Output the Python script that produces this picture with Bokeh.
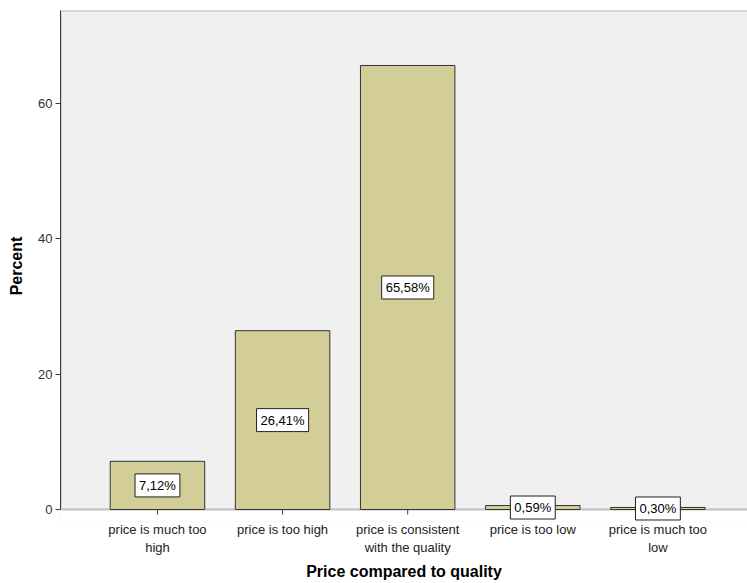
from bokeh.plotting import figure
from bokeh.models import ColumnDataSource, Range1d, FixedTicker, Label, BoxAnnotation
from bokeh.embed import file_html
from bokeh.resources import INLINE

categories = ["price is much too\nhigh", "price is too high", "price is consistent\nwith the quality",
              "price is too low", "price is much too\nlow"]
percent = [7.12, 26.41, 65.58, 0.59, 0.30]
bar_labels = ["7,12%", "26,41%", "65,58%", "0,59%", "0,30%"]
y_ticks = [0, 20, 40, 60]

xs = list(range(len(categories)))
src = ColumnDataSource(dict(x=xs, top=percent))

FONT = "Liberation Sans"
X_LEFT, X_RIGHT = -0.775, 4.716
Y_TOP = 73.7
Y_BOTTOM = -1.77          # small strip below zero so value boxes are not clipped
TICK_LEN = 0.74           # x tick length in data units (~5px)
AX = "#3a3a3a"

p = figure(width=747, height=583, output_backend="svg", toolbar_location=None,
           x_range=Range1d(X_LEFT, X_RIGHT), y_range=Range1d(Y_BOTTOM, Y_TOP))
p.min_border_left = 60
p.min_border_top = 10
p.min_border_bottom = 62
p.min_border_right = 0
p.background_fill_color = "#f0f0f0"
p.border_fill_color = "white"
p.outline_line_color = None
p.xgrid.visible = False
p.ygrid.visible = False

# white strip below the zero line (outside the plotting area in the original)
p.add_layout(BoxAnnotation(top=0, fill_color="white", fill_alpha=1,
                           line_color=None, level="underlay"))
# plot-area border (top edge + zero line); right edge lies beyond the window
p.add_layout(BoxAnnotation(bottom=0, right=X_RIGHT + 0.5, fill_alpha=0, line_color=AX,
                           line_width=2, level="underlay"))

p.vbar(x="x", top="top", width=0.755, bottom=0, source=src,
       fill_color="#d3ce97", line_color="#333333", line_width=1)

# x tick marks below the zero line
p.segment(x0="x", y0=0, x1="x", y1=-TICK_LEN, source=src, line_color=AX, line_width=1)

for xi, v, lab in zip(xs, percent, bar_labels):
    p.add_layout(Label(x=xi, y=v / 2, text=lab, level="overlay",
                       text_align="center", text_baseline="middle",
                       text_font=FONT, text_font_size="13px", text_color="black",
                       background_fill_color="white", border_line_color="#222222",
                       border_line_width=1, padding=4))

# y axis
p.yaxis.ticker = FixedTicker(ticks=y_ticks)
p.yaxis.bounds = (0, Y_TOP)
p.yaxis.minor_tick_line_color = None
p.yaxis.major_tick_in = 0
p.yaxis.major_tick_out = 5
p.yaxis.axis_line_color = AX
p.yaxis.major_tick_line_color = AX
p.yaxis.major_label_text_font = FONT
p.yaxis.major_label_text_font_size = "13px"
p.yaxis.major_label_text_color = "#333333"
p.yaxis.major_label_standoff = 3
p.yaxis.axis_label = "Percent"
p.yaxis.axis_label_text_font = FONT
p.yaxis.axis_label_text_font_style = "bold"
p.yaxis.axis_label_text_font_size = "16px"
p.yaxis.axis_label_text_color = "black"
p.yaxis.axis_label_standoff = 10

# x axis (labels only; line and ticks drawn at zero above)
p.xaxis.ticker = FixedTicker(ticks=xs)
p.xaxis.major_label_overrides = {i: c for i, c in zip(xs, categories)}
p.xaxis.axis_line_color = None
p.xaxis.major_tick_line_color = None
p.xaxis.minor_tick_line_color = None
p.xaxis.major_tick_in = 0
p.xaxis.major_tick_out = 0
p.xaxis.major_label_text_font = FONT
p.xaxis.major_label_text_font_size = "13px"
p.xaxis.major_label_text_color = "#222222"
p.xaxis.major_label_standoff = 0
p.xaxis.axis_label = "Price compared to quality"
p.xaxis.axis_label_text_font = FONT
p.xaxis.axis_label_text_font_style = "bold"
p.xaxis.axis_label_text_font_size = "16px"
p.xaxis.axis_label_text_color = "black"
p.xaxis.axis_label_standoff = 5

open("out.html", "w").write(file_html(p, INLINE))
